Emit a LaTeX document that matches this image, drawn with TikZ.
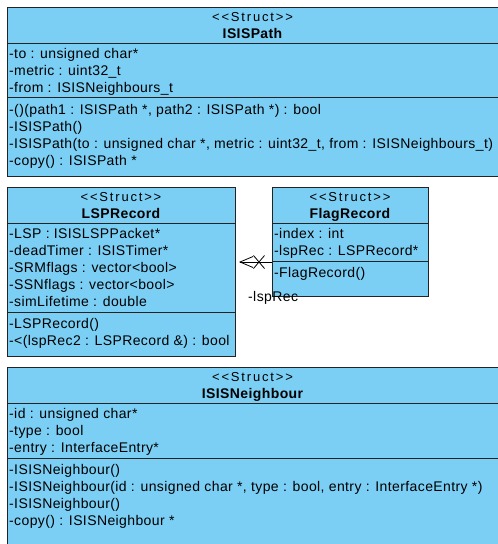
\documentclass[tikz,border=0pt]{standalone}
\usepackage{fontspec}
\setmainfont{Liberation Sans}[Ligatures=TeXOff, LetterSpace=2.8]
\usetikzlibrary{arrows.meta}
\definecolor{umlfill}{RGB}{123,206,244}
\definecolor{umlline}{RGB}{35,35,35}
\begin{document}
\begin{tikzpicture}[x=1pt,y=-1pt,
  umlbox/.style={draw=umlline, fill=umlfill, line width=1pt, anchor=north west, inner sep=0pt},
  sepline/.style={draw=umlline, line width=1pt},
  member/.style={anchor=base west, inner sep=0pt, font=\fontsize{14}{17}\selectfont},
  stereo/.style={anchor=base, inner sep=0pt, font=\fontsize{13}{17}\selectfont\addfontfeature{LetterSpace=14}},
  cname/.style={anchor=base, inner sep=0pt, font=\fontsize{14}{17}\selectfont\bfseries},
  assoc/.style={draw=black, line width=0.8pt}]
\useasboundingbox (0,0) rectangle (498,544);
\clip (0,0) rectangle (498,544);

% ---------- ISISPath ----------
\node[umlbox, minimum width=493pt, minimum height=169pt] (isispath) at (7,7) {};
\draw[sepline] (isispath.west |- 0,43) -- (isispath.east |- 0,43);
\draw[sepline] (isispath.west |- 0,97) -- (isispath.east |- 0,97);
\node[stereo] (p0) at (252.5,21) {<<Struct>>};
\node[cname] (p1) at (252.5,38) {ISISPath};
\node[member] (p2) at (9,58) {-to : unsigned char*};
\node[member] (p3) at (9,75) {-metric : uint32\_t};
\node[member] (p4) at (9,92) {-from : ISISNeighbours\_t};
\node[member] (p5) at (9,114) {-()(path1 : ISISPath *, path2 : ISISPath *) : bool};
\node[member] (p6) at (9,131) {-ISISPath()};
\node[member] (p7) at (9,148) {-ISISPath(to : unsigned char *, metric : uint32\_t, from : ISISNeighbours\_t)};
\node[member] (p8) at (9,165) {-copy() : ISISPath *};

% ---------- LSPRecord ----------
\node[umlbox, minimum width=228pt, minimum height=169pt] (lsp) at (7,187) {};
\draw[sepline] (lsp.west |- 0,223) -- (lsp.east |- 0,223);
\draw[sepline] (lsp.west |- 0,312) -- (lsp.east |- 0,312);
\node[stereo] (l0) at (121,201) {<<Struct>>};
\node[cname] (l1) at (121,218) {LSPRecord};
\node[member] (l2) at (9,238) {-LSP : ISISLSPPacket*};
\node[member] (l3) at (9,255) {-deadTimer : ISISTimer*};
\node[member] (l4) at (9,272) {-SRMflags : vector<bool>};
\node[member] (l5) at (9,289) {-SSNflags : vector<bool>};
\node[member] (l6) at (9,306) {-simLifetime : double};
\node[member] (l7) at (9,328) {-LSPRecord()};
\node[member] (l8) at (9,345) {-<(lspRec2 : LSPRecord \&) : bool};

% ---------- FlagRecord ----------
\node[umlbox, minimum width=156pt, minimum height=109pt] (flag) at (272,187) {};
\draw[sepline] (flag.west |- 0,223) -- (flag.east |- 0,223);
\draw[sepline] (flag.west |- 0,261) -- (flag.east |- 0,261);
\node[stereo] (f0) at (350,201) {<<Struct>>};
\node[cname] (f1) at (350,218) {FlagRecord};
\node[member] (f2) at (274,238) {-index : int};
\node[member] (f3) at (274,255) {-lspRec : LSPRecord*};
\node[member] (f4) at (274,277) {-FlagRecord()};

% ---------- association ----------
\coordinate (aS) at (flag.west |- 0,262);
\coordinate (aE) at (lsp.east |- 0,262);
\draw[assoc, -{Straight Barb[length=13pt,width=11pt,line width=0.8pt]}, shorten >=3pt] (aS) -- (aE);
\coordinate (xc) at (259,262);
\draw[assoc] ([shift={(-5.5,-6.5)}]xc) -- ([shift={(5.5,6.5)}]xc)
             ([shift={(-5.5,6.5)}]xc) -- ([shift={(5.5,-6.5)}]xc);
\node[member] (lbl) at (248,301) {-lspRec};

% ---------- ISISNeighbour ----------
\node[umlbox, minimum width=493pt, minimum height=200pt] (nb) at (7,367) {};
\draw[sepline] (nb.west |- 0,403) -- (nb.east |- 0,403);
\draw[sepline] (nb.west |- 0,458) -- (nb.east |- 0,458);
\node[stereo] (n0) at (252.5,381) {<<Struct>>};
\node[cname] (n1) at (252.5,398) {ISISNeighbour};
\node[member] (n2) at (9,418) {-id : unsigned char*};
\node[member] (n3) at (9,435) {-type : bool};
\node[member] (n4) at (9,452) {-entry : InterfaceEntry*};
\node[member] (n5) at (9,474) {-ISISNeighbour()};
\node[member] (n6) at (9,491) {-ISISNeighbour(id : unsigned char *, type : bool, entry : InterfaceEntry *)};
\node[member] (n7) at (9,508) {-ISISNeighbour()};
\node[member] (n8) at (9,525) {-copy() : ISISNeighbour *};
\end{tikzpicture}
\end{document}
